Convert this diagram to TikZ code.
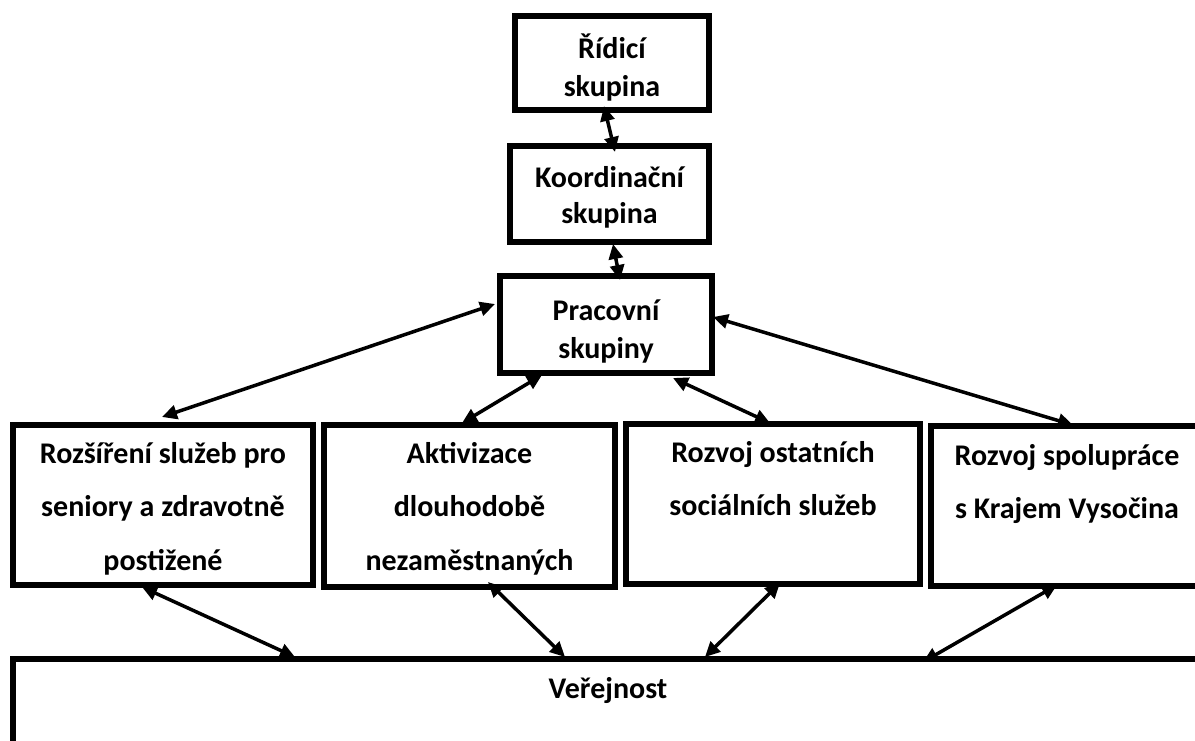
\documentclass[tikz,border=0pt]{standalone}
\usepackage{fontspec}
\setmainfont{Carlito}
\usetikzlibrary{arrows.meta,calc}
\newcommand{\bxt}[5]{\parbox[c][#2pt][t]{#1pt}{\centering\fontsize{30}{#4}\selectfont\bfseries\rule{0pt}{#3pt}#5}}
\tikzset{
  boxnode/.style={draw, line width=6pt, inner sep=0pt, outer sep=0pt, anchor=north west},
  link/.style={line width=3.5pt, {Triangle[length=15pt,width=14pt]}-{Triangle[length=15pt,width=14pt]}},
}
\begin{document}
\begin{tikzpicture}[x=1pt,y=-1pt]
\useasboundingbox (0,0) rectangle (1195,740);
\clip (0,0) rectangle (1195,740);
\fill[white] (0,0) rectangle (1195,740);
% top column
\node[boxnode] (R) at (515,16) {\bxt{194}{94}{42}{38}{Řídicí\\skupina}};
\node[boxnode] (K) at (510,146) {\bxt{199}{96}{41}{36}{Koordinační\\skupina}};
\node[boxnode] (P) at (500,276) {\bxt{212}{97}{44}{38}{Pracovní\\skupiny}};
% working groups
\node[boxnode] (B1) at (13,425) {\bxt{300}{160}{38}{53.5}{Rozšíření služeb pro\\seniory a zdravotně\\postižené}};
\node[boxnode] (B2) at (324,425) {\bxt{291}{162}{38}{53.5}{Aktivizace\\dlouhodobě\\nezaměstnaných}};
\node[boxnode] (B3) at (626,424) {\bxt{294}{160}{38}{53.5}{Rozvoj ostatních\\sociálních služeb}};
\node[boxnode] (B4) at (931,426) {\bxt{272}{160}{39}{53.5}{Rozvoj spolupráce\\s Krajem Vysočina}};
% public
\node[boxnode] (V) at (13,659) {\bxt{1190}{200}{39}{40}{Veřejnost}};
% connectors
\draw[link] ($(R.south)+(-8,-4)$) -- ($(K.north)+(5.5,6)$);
\draw[link] ($(K.south)+(3.5,2)$) -- ($(P.north)+(14,4)$);
\draw[link] ($(P.west)+(-5,-20.5)$) -- ($(B1.north)+(-1,-8)$);
\draw[link] ($(P.south)+(-64,2)$) -- ($(B2.north)+(-7.5,-2)$);
\draw[link] ($(P.south)+(67,5)$) -- ($(B3.north)+(-3,-1)$);
\draw[link] ($(P.east)+(1,-7.5)$) -- ($(B4.north)+(6,-1)$);
\draw[link] ($(B1.south)+(-21,2)$) -- ($(V.north west)+(282,-2)$);
\draw[link] ($(B2.south)+(18.5,-5)$) -- ($(V.north west)+(552,-2)$);
\draw[link] ($(B3.south)+(7,-1)$) -- ($(V.north west)+(692,-2)$);
\draw[link] ($(B4.south)+(-10,-1)$) -- ($(V.north west)+(910,3)$);
\end{tikzpicture}
\end{document}
